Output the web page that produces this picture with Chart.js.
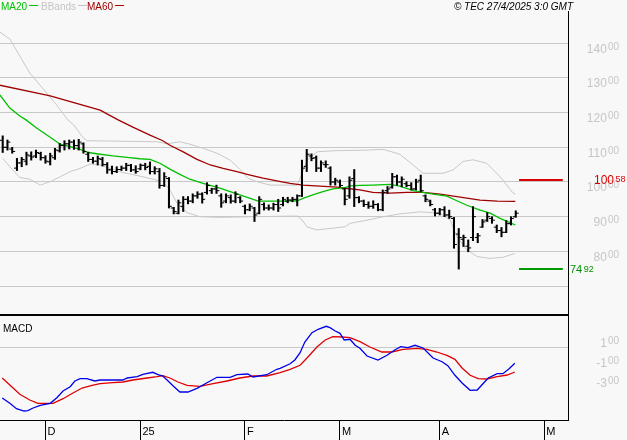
<!DOCTYPE html>
<html><head><meta charset="utf-8">
<script src="https://cdn.jsdelivr.net/npm/chart.js@4.4.1/dist/chart.umd.min.js"></script>
<style>
html,body{margin:0;padding:0;background:#f8f8f8;}
#wrap{position:relative;width:627px;height:440px;overflow:hidden;background:#f8f8f8;}
#c1{position:absolute;left:0;top:0;}
#c2{position:absolute;left:0;top:315px;}
</style></head><body>
<div id="wrap"><canvas id="c1" width="627" height="316"></canvas><canvas id="c2" width="627" height="125"></canvas></div>
<script>
// ---------- DATA (bar index 0 = first session shown) ----------
const highs = [113.3,112.1,110.0,106.8,107.1,108.6,108.7,109.2,108.6,107.6,
108.3,109.7,111.1,111.9,112.1,112.1,112.3,111.3,108.6,107.1,
107.5,107.1,105.6,104.6,104.4,104.6,105.4,105.1,104.7,105.2,
105.4,105.8,104.4,103.9,102.7,101.3,92.7,94.8,95.8,95.8,
96.6,97.2,96.9,99.8,98.2,99.1,96.6,96.6,96.3,97.2,
95.8,93.4,93.7,92.7,95.8,94.0,93.4,93.9,95.0,95.6,
95.6,95.6,96.3,106.3,109.4,108.1,107.5,106.1,106.1,104.4,
101.1,100.6,98.2,101.5,103.6,95.8,94.8,94.3,94.6,93.8,
97.7,98.7,102.5,102.0,101.5,100.1,99.8,100.8,102.0,96.3,
94.8,92.4,92.4,92.9,91.9,89.8,86.6,84.7,83.3,92.9,
85.2,89.2,91.2,90.0,87.6,86.9,88.9,90.0,91.7];
const lows = [108.5,109.2,108.3,103.3,104.4,104.9,106.3,107.0,106.3,105.4,
104.9,106.5,108.6,109.2,109.5,109.4,109.2,108.3,105.9,105.4,
104.9,104.6,102.5,102.3,102.7,103.3,103.3,103.0,102.5,103.5,
103.5,102.3,102.3,98.2,98.7,92.5,90.8,90.8,91.5,93.7,
94.0,95.3,93.9,96.5,96.7,96.7,92.7,94.0,93.9,94.0,
94.0,90.8,91.7,88.6,90.8,91.9,91.9,91.9,91.5,93.1,
94.0,94.3,93.1,95.8,103.0,106.1,103.0,103.0,104.2,99.1,
99.1,98.6,93.4,95.3,92.9,94.0,92.9,92.4,92.4,91.7,
91.7,96.7,98.2,99.1,98.6,98.6,97.7,97.7,97.2,94.3,
93.1,90.2,90.5,90.0,89.5,80.9,74.9,81.4,79.9,83.1,
82.5,86.9,88.6,88.1,85.4,84.2,85.4,87.6,89.8];
const opens = [112.0,110.0,109.5,104.0,105.5,106.0,107.5,107.5,108.2,107.0,
105.8,107.0,109.0,110.5,111.0,111.5,110.5,111.0,108.0,106.5,
106.0,106.5,105.0,103.5,103.0,103.6,104.0,104.8,103.5,103.8,
104.8,104.5,103.0,103.0,99.0,101.0,92.5,91.0,93.0,95.0,
94.5,96.0,96.5,97.0,97.5,98.0,96.0,94.5,95.5,94.5,
95.5,93.0,92.0,92.5,91.0,93.5,92.5,92.5,93.5,93.5,
94.5,94.8,95.0,96.0,104.5,107.5,107.0,104.0,105.0,104.0,
100.0,100.0,98.0,96.0,101.0,95.5,94.5,93.5,93.0,93.5,
92.0,97.5,98.5,101.5,100.0,99.5,99.0,98.0,100.5,96.0,
94.5,92.0,91.0,92.0,90.5,89.5,85.0,83.5,81.5,84.0,
84.0,87.0,89.0,89.5,87.0,86.0,85.5,88.0,90.0];
const closes = [110.0,111.5,108.8,105.5,106.5,107.8,107.2,108.5,107.0,106.0,
107.5,109.2,110.5,111.0,111.5,110.5,111.5,108.8,106.5,106.0,
106.8,105.0,103.5,103.0,103.6,104.0,104.8,103.5,103.0,104.8,
104.2,103.0,103.8,99.0,101.5,93.0,91.5,94.0,95.0,94.5,
96.0,96.5,95.0,99.0,98.0,97.5,94.0,96.0,94.5,96.5,
94.5,92.0,93.0,90.5,95.0,92.5,92.5,93.5,92.5,95.0,
94.8,95.0,96.0,104.0,108.0,106.8,104.0,105.5,105.0,100.0,
100.5,99.0,95.0,100.5,95.5,94.5,93.5,93.0,93.5,92.0,
97.0,98.0,101.5,100.0,100.8,99.0,98.0,100.0,97.5,95.0,
93.5,91.0,92.0,90.5,90.0,82.0,84.0,84.0,81.0,90.0,
84.5,88.5,90.0,89.0,86.0,85.5,88.0,89.5,91.0];

// [bar index, value]
const ma20 = [[-0.6,125.1],[1.5,121.3],[3.6,119.0],[4.9,117.9],[7.2,115.5],[10.0,112.9],[12.1,110.9],[14.2,110.2],[16.3,109.4],[18.0,108.5],[20.5,108.0],[23.2,107.5],[26.2,107.1],[28.9,106.7],[31.0,106.5],[33.1,105.4],[35.2,103.7],[37.3,102.2],[39.4,100.8],[42.2,99.6],[45.7,98.2],[49.3,96.6],[52.1,95.3],[53.8,94.5],[56.3,94.5],[59.9,94.5],[62.0,94.6],[63.2,95.3],[65.3,96.3],[67.4,97.2],[69.5,98.0],[72.1,98.4],[73.1,98.9],[75.2,99.0],[77.9,99.1],[81.5,99.3],[83.6,98.8],[86.4,97.5],[88.5,97.0],[90.6,96.5],[93.5,95.9],[95.6,94.6],[97.7,93.3],[100.5,91.9],[102.6,91.0],[104.7,89.5],[106.8,88.3],[107.9,87.6]];
const ma60 = [[-0.6,127.9],[10.0,124.8],[20.5,120.7],[24.3,117.9],[27.4,115.8],[31.0,113.5],[33.7,111.9],[35.2,110.6],[38.0,108.7],[40.9,106.5],[43.7,104.9],[46.4,103.9],[49.3,103.0],[52.1,102.0],[54.8,101.1],[57.7,100.3],[60.5,99.6],[63.2,99.1],[66.8,98.8],[70.4,98.5],[72.1,98.2],[75.2,97.7],[77.9,97.0],[81.5,96.8],[85.1,97.0],[88.5,97.0],[92.1,96.5],[95.6,95.8],[100.5,94.8],[104.1,94.5],[107.9,94.4]];
const bbUpper = [[-0.6,143.2],[1.5,141.2],[3.6,136.3],[5.7,131.4],[8.9,126.2],[11.0,122.8],[13.7,117.9],[15.2,116.1],[16.7,113.1],[17.7,111.9],[22.6,111.8],[32.5,111.6],[34.6,111.0],[37.3,111.6],[39.4,110.9],[42.2,109.7],[45.1,108.3],[47.9,106.3],[50.4,103.0],[51.6,101.1],[53.5,100.1],[56.3,99.1],[62.0,99.1],[63.0,102.5],[64.1,106.3],[66.2,108.7],[69.5,109.0],[76.7,109.2],[80.1,109.4],[83.6,108.0],[86.4,104.9],[88.5,102.5],[92.7,102.5],[94.8,103.5],[96.9,105.9],[99.0,106.4],[101.9,105.4],[104.7,101.5],[107.4,96.9],[107.9,96.5]];
const bbLower = [[0,106.8],[1.5,104.4],[3.6,101.3],[5.7,100.8],[7.9,99.1],[10.0,100.1],[12.1,101.5],[14.2,103.0],[16.3,103.9],[18.4,105.2],[20.5,104.9],[22.6,103.9],[25.3,102.7],[28.9,101.7],[31.6,100.8],[33.7,100.1],[35.2,97.7],[36.7,93.9],[38.8,91.2],[41.5,90.0],[45.7,89.8],[52.7,90.0],[62.0,90.2],[63.0,89.1],[64.1,87.0],[66.2,86.2],[68.9,86.6],[72.1,87.1],[73.1,88.1],[76.7,89.0],[80.1,90.0],[83.6,90.8],[87.8,91.4],[92.1,91.0],[94.2,89.0],[95.6,84.3],[97.7,80.4],[99.9,78.5],[102.6,78.0],[105.3,78.3],[107.8,79.4]];
const macdLine = [[-0.1,-5.07],[1.5,-5.60],[2.9,-6.14],[4.5,-6.37],[5.3,-6.34],[6.4,-6.07],[7.9,-5.80],[10.0,-5.60],[11.4,-5.04],[12.7,-4.37],[14.2,-3.94],[15.2,-3.37],[16.3,-3.14],[17.7,-3.14],[19.4,-3.37],[20.5,-3.27],[25.3,-3.27],[26.2,-3.07],[28.3,-2.94],[29.5,-2.70],[31.6,-2.50],[32.7,-2.74],[33.7,-2.87],[34.6,-3.27],[35.9,-3.87],[37.3,-4.47],[39.0,-4.47],[40.9,-4.10],[43.0,-3.54],[45.1,-3.00],[47.9,-3.00],[49.3,-2.74],[51.6,-2.67],[52.7,-2.97],[55.6,-2.74],[57.7,-2.20],[58.4,-2.10],[60.5,-1.65],[61.5,-1.27],[62.6,-0.54],[63.6,0.53],[65.1,1.46],[66.4,1.80],[68.1,2.10],[68.9,1.96],[70.0,1.63],[71.0,1.40],[71.9,0.73],[73.1,0.80],[74.2,0.20],[75.2,-0.10],[76.7,-0.87],[79.0,-1.27],[80.9,-0.80],[82.6,-0.24],[83.8,0.06],[85.3,-0.04],[86.8,0.20],[88.5,-0.07],[90.6,-1.07],[92.5,-1.44],[93.7,-1.84],[95.2,-2.80],[96.7,-3.57],[98.4,-4.30],[99.9,-4.27],[100.9,-3.74],[102.2,-3.07],[104.1,-2.64],[105.3,-2.64],[106.6,-2.14],[107.8,-1.60]];
const signalLine = [[-0.1,-3.07],[1.5,-3.77],[3.6,-4.70],[5.7,-5.27],[7.4,-5.60],[10.6,-5.60],[12.7,-5.14],[14.8,-4.57],[16.7,-4.07],[18.8,-3.80],[20.5,-3.64],[23.2,-3.54],[25.3,-3.47],[27.4,-3.27],[30.4,-3.07],[32.5,-2.94],[33.7,-2.84],[35.2,-3.07],[36.9,-3.47],[38.8,-3.80],[41.5,-3.90],[44.3,-3.64],[47.2,-3.37],[49.9,-3.07],[52.7,-2.87],[55.6,-2.87],[58.4,-2.54],[60.5,-2.20],[62.6,-1.80],[64.3,-0.94],[66.2,0.06],[67.9,0.73],[69.5,1.06],[71.4,1.03],[73.1,0.96],[75.2,0.56],[77.3,0.03],[79.8,-0.47],[81.9,-0.47],[84.3,-0.20],[87.2,-0.10],[89.3,-0.20],[91.4,-0.47],[93.5,-0.80],[95.2,-1.20],[96.7,-2.07],[98.4,-2.80],[100.1,-3.14],[101.9,-3.17],[104.1,-2.94],[106.2,-2.77],[107.8,-2.47]];

const resistance = 100.58;
const support = 74.92;
const levelSpan = [108.7, 117.9];

const monthTickIdx = [9, 29, 51, 71, 92, 114];
const monthLabels = ['D', '25', 'F', 'M', 'A', 'M'];
const priceGridValues = [70, 80, 90, 100, 110, 120, 130, 140];
const priceLabelValues = [80, 90, 100, 110, 120, 130, 140];
const macdGridValues = [0];
const macdLabelValues = [1, -1, -3];

// ---------- helpers ----------
const FONT = '"Liberation Sans", Arial, sans-serif';
const pairs = a => a.map(p => ({x: p[0], y: p[1]}));
const X_MIN = -0.57, X_MAX = 119.0;

function drawSplitRight(ctx, xRight, yRef, big, small, color) {
  ctx.fillStyle = color;
  ctx.textAlign = 'left';
  ctx.textBaseline = 'alphabetic';
  ctx.font = '10px ' + FONT;
  const ws = ctx.measureText(small).width;
  ctx.fillText(small, xRight - ws, yRef + 6.5);
  ctx.font = '12px ' + FONT;
  const wb = ctx.measureText(big).width;
  ctx.fillText(big, xRight - ws - 1 - wb, yRef + 9.5);
}
function drawSplitLeft(ctx, xLeft, yRef, big, small, color, bigPx) {
  ctx.fillStyle = color;
  ctx.textAlign = 'left';
  ctx.textBaseline = 'alphabetic';
  ctx.font = bigPx + 'px ' + FONT;
  const wb = ctx.measureText(big).width;
  ctx.fillText(big, xLeft, yRef + 4.3);
  ctx.font = '9px ' + FONT;
  ctx.fillText(small, xLeft + wb + 1.5, yRef + 2.5);
}

const priceDecor = {
  id: 'priceDecor',
  afterDraw(chart) {
    const {ctx} = chart;
    const y = chart.scales.y;
    ctx.save();
    priceLabelValues.forEach(v => {
      drawSplitRight(ctx, 619, y.getPixelForValue(v), String(v), '00', '#c6c6c6');
    });
    const r = resistance.toFixed(2).split('.');
    drawSplitLeft(ctx, 594, y.getPixelForValue(resistance), r[0], r[1], '#dd0000', 12);
    const s = support.toFixed(2).split('.');
    drawSplitLeft(ctx, 570, y.getPixelForValue(support), s[0], s[1], '#008f00', 11);
    // legend
    ctx.font = '10px ' + FONT;
    ctx.textBaseline = 'alphabetic';
    ctx.textAlign = 'left';
    const items = [['MA20', '#00c000', 1], ['BBands', '#c4c4c4', 41], ['MA60', '#a00000', 87]];
    items.forEach(([t, c, x0]) => {
      ctx.fillStyle = c;
      ctx.fillText(t, x0, 10);
      const w = ctx.measureText(t).width;
      ctx.strokeStyle = c; ctx.lineWidth = 1;
      ctx.beginPath(); ctx.moveTo(x0 + w + 2, 5.5); ctx.lineTo(x0 + w + 11, 5.5); ctx.stroke();
    });
    ctx.fillStyle = '#000';
    ctx.font = 'italic 10px ' + FONT;
    ctx.textAlign = 'right';
    ctx.fillText('\u00A9 TEC 27/4/2025 3:0 GMT', 573, 10);
    ctx.restore();
  }
};

const macdDecor = {
  id: 'macdDecor',
  afterDraw(chart) {
    const {ctx} = chart;
    const y = chart.scales.y;
    ctx.save();
    macdLabelValues.forEach(v => {
      drawSplitRight(ctx, 619, y.getPixelForValue(v), String(v), '00', '#c6c6c6');
    });
    ctx.fillStyle = '#000';
    ctx.font = '10px ' + FONT;
    ctx.textAlign = 'left';
    ctx.textBaseline = 'alphabetic';
    ctx.fillText('MACD', 3, 17);
    ctx.restore();
  }
};

Chart.defaults.font.family = FONT;
Chart.defaults.elements.point.hoverRadius = 0;

const xBase = {
  type: 'linear', min: X_MIN, max: X_MAX, offset: false
};

new Chart(document.getElementById('c1'), {
  type: 'bar',
  data: {
    datasets: [
      {type: 'line', label: 'open', data: opens.map((v, i) => ({x: i - 0.3, y: v})), showLine: false,
        pointStyle: 'line', pointRadius: 1.5, pointBorderWidth: 1, pointBorderColor: '#000', pointBackgroundColor: '#000'},
      {type: 'line', label: 'close', data: closes.map((v, i) => ({x: i + 0.3, y: v})), showLine: false,
        pointStyle: 'line', pointRadius: 1.5, pointBorderWidth: 1, pointBorderColor: '#000', pointBackgroundColor: '#000'},
      {type: 'bar', label: 'range', data: highs.map((h, i) => ({x: i, y: [lows[i], h]})),
        backgroundColor: '#000', borderWidth: 0, barThickness: 1.4},
      {type: 'line', label: 'resistance', data: levelSpan.map(x => ({x, y: resistance})), borderColor: '#dd0000', borderWidth: 2, pointRadius: 0},
      {type: 'line', label: 'support', data: levelSpan.map(x => ({x, y: support})), borderColor: '#009900', borderWidth: 2, pointRadius: 0},
      {type: 'line', label: 'MA20', data: pairs(ma20), borderColor: '#00c000', borderWidth: 1.3, pointRadius: 0, tension: 0},
      {type: 'line', label: 'MA60', data: pairs(ma60), borderColor: '#a00000', borderWidth: 1.3, pointRadius: 0, tension: 0},
      {type: 'line', label: 'BBup', data: pairs(bbUpper), borderColor: '#c8c8c8', borderWidth: 1, pointRadius: 0},
      {type: 'line', label: 'BBlow', data: pairs(bbLower), borderColor: '#c8c8c8', borderWidth: 1, pointRadius: 0}
    ]
  },
  options: {
    responsive: false, animation: false, events: [],
    layout: {autoPadding: false, padding: {top: 11, right: 59, left: 0, bottom: 1}},
    plugins: {legend: {display: false}, tooltip: {enabled: false}},
    scales: {
      x: Object.assign({}, xBase, {
        display: true,
        afterFit: s => { s.height = 0; },
        grid: {display: false, drawTicks: false},
        ticks: {display: false},
        border: {display: true, color: '#000', width: 2}
      }),
      y: {
        type: 'linear', position: 'right', min: 61.67, max: 149.28,
        afterFit: s => { s.width = 0; },
        afterBuildTicks: s => { s.ticks = priceGridValues.map(v => ({value: v})); },
        grid: {color: '#c8c8c8', lineWidth: 1, drawTicks: false},
        ticks: {display: false},
        border: {display: true, color: '#000', width: 1}
      }
    }
  },
  plugins: [priceDecor]
});

new Chart(document.getElementById('c2'), {
  type: 'line',
  data: {
    datasets: [
      {label: 'MACD', data: pairs(macdLine), borderColor: '#0000e6', borderWidth: 1.3, pointRadius: 0},
      {label: 'Signal', data: pairs(signalLine), borderColor: '#e00000', borderWidth: 1.3, pointRadius: 0}
    ]
  },
  options: {
    responsive: false, animation: false, events: [],
    layout: {autoPadding: false, padding: {top: 1, right: 59, left: 0, bottom: 0}},
    plugins: {legend: {display: false}, tooltip: {enabled: false}},
    scales: {
      x: Object.assign({}, xBase, {
        afterBuildTicks: s => { s.ticks = monthTickIdx.map(v => ({value: v})); },
        afterFit: s => { s.height = 20; },
        grid: {drawOnChartArea: false, drawTicks: true, tickLength: 20, color: '#000', lineWidth: 1},
        ticks: {align: 'start', padding: -15, labelOffset: 2, color: '#000', font: {size: 11},
          maxRotation: 0, autoSkip: false, callback: (v, i) => monthLabels[i]},
        border: {display: true, color: '#000', width: 1}
      }),
      y: {
        type: 'linear', position: 'right', min: -7.27, max: 3.13,
        afterFit: s => { s.width = 0; },
        afterBuildTicks: s => { s.ticks = macdGridValues.map(v => ({value: v})); },
        grid: {color: '#c8c8c8', lineWidth: 1, drawTicks: false},
        ticks: {display: false},
        border: {display: true, color: '#000', width: 1}
      }
    }
  },
  plugins: [macdDecor]
});
</script>
</body></html>
